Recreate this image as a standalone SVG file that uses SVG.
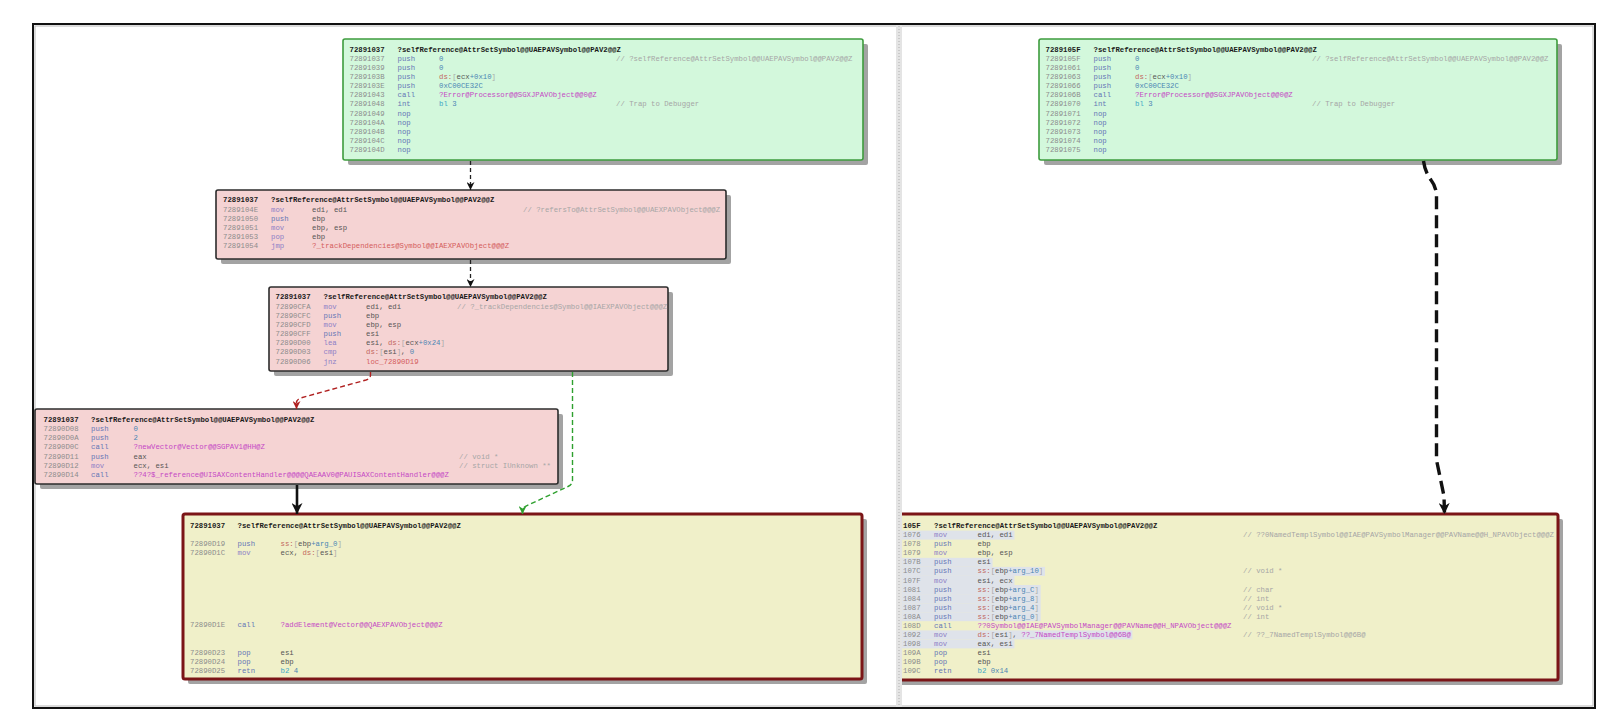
<svg xmlns="http://www.w3.org/2000/svg" width="1600" height="714" viewBox="0 0 1600 714">
<style>
.t{font-family:"Liberation Mono","DejaVu Sans Mono",monospace;font-size:7.3px}
.h{font-weight:bold;fill:#1a1a1a}
.a{fill:#8c8c8c}
.p{fill:#6476b6}
.q{fill:#8e80c6}
.r{fill:#555555}
.n{fill:#4c86b4}
.s{fill:#c2665c}
.b{fill:#a8a8a8}
.f{fill:#c548c5}
.j{fill:#d45c5c}
.c{fill:#a6a6a6}
.k{fill:#3fa6c6}
.shadow{fill:#a3a3a3}
.green{fill:#d3f8dc;stroke:#3e9c3e;stroke-width:1.6}
.pink{fill:#f5d3d3;stroke:#2c2c2c;stroke-width:1.6}
.yellow{fill:#f0f0c9;stroke:#7b1517;stroke-width:3}
.hl{fill:#dfe3ea}
.e{fill:none}
</style>
<defs>
<marker id="ak" viewBox="0 0 10 10" refX="10" refY="5" markerWidth="8" markerHeight="8" markerUnits="userSpaceOnUse" orient="auto"><path d="M0,0 L10,5 L0,10 L3,5 z" fill="#111"/></marker>
<marker id="akb" viewBox="0 0 10 10" refX="10" refY="5" markerWidth="11" markerHeight="11" markerUnits="userSpaceOnUse" orient="auto"><path d="M0,0 L10,5 L0,10 L3,5 z" fill="#111"/></marker>
<marker id="ar" viewBox="0 0 10 10" refX="10" refY="5" markerWidth="8" markerHeight="8" markerUnits="userSpaceOnUse" orient="auto"><path d="M0,0 L10,5 L0,10 L3,5 z" fill="#b02020"/></marker>
<marker id="ag" viewBox="0 0 10 10" refX="10" refY="5" markerWidth="8" markerHeight="8" markerUnits="userSpaceOnUse" orient="auto"><path d="M0,0 L10,5 L0,10 L3,5 z" fill="#2ea02e"/></marker>
<clipPath id="rp"><rect x="902" y="25" width="693" height="682"/></clipPath>
</defs>
<rect x="0" y="0" width="1600" height="714" fill="#ffffff"/>
<g id="frame">
<rect x="33" y="24" width="1562" height="684" fill="none" stroke="#111" stroke-width="2"/>
<rect x="35" y="26" width="1558" height="680" fill="none" stroke="#b8b8b8" stroke-width="1"/>
<rect x="896" y="25" width="6" height="682" fill="#e4e4e4"/>
<line x1="899" y1="26" x2="899" y2="706" stroke="#b0b0b0" stroke-width="1" stroke-dasharray="1 2"/>
</g>

<g id="n1">
<rect class="shadow" x="348" y="44" width="520" height="121" rx="2"/>
<rect class="green" x="343" y="39" width="520" height="121" rx="2"/>
<text class="t h" y="51.7"><tspan x="349.5">72891037</tspan><tspan x="397.5">?selfReference@AttrSetSymbol@@UAEPAVSymbol@@PAV2@@Z</tspan></text>
<text class="t" y="60.7"><tspan x="349.5" class="a">72891037</tspan><tspan x="397.5" class="p">push</tspan><tspan x="439" class="n">0</tspan><tspan x="616" class="c">// ?selfReference@AttrSetSymbol@@UAEPAVSymbol@@PAV2@@Z</tspan></text>
<text class="t" y="69.85"><tspan x="349.5" class="a">72891039</tspan><tspan x="397.5" class="p">push</tspan><tspan x="439" class="n">0</tspan></text>
<text class="t" y="79"><tspan x="349.5" class="a">7289103B</tspan><tspan x="397.5" class="p">push</tspan><tspan x="439" class="s">ds:</tspan><tspan class="b">[</tspan><tspan class="r">ecx</tspan><tspan class="n">+0x10</tspan><tspan class="b">]</tspan></text>
<text class="t" y="88.15"><tspan x="349.5" class="a">7289103E</tspan><tspan x="397.5" class="p">push</tspan><tspan x="439" class="n">0xC00CE32C</tspan></text>
<text class="t" y="97.3"><tspan x="349.5" class="a">72891043</tspan><tspan x="397.5" class="p">call</tspan><tspan x="439" class="f">?Error@Processor@@SGXJPAVObject@@0@Z</tspan></text>
<text class="t" y="106.45"><tspan x="349.5" class="a">72891048</tspan><tspan x="397.5" class="p">int</tspan><tspan x="439" class="k">bl</tspan><tspan class="n"> 3</tspan><tspan x="616" class="c">// Trap to Debugger</tspan></text>
<text class="t" y="115.6"><tspan x="349.5" class="a">72891049</tspan><tspan x="397.5" class="p">nop</tspan></text>
<text class="t" y="124.75"><tspan x="349.5" class="a">7289104A</tspan><tspan x="397.5" class="p">nop</tspan></text>
<text class="t" y="133.9"><tspan x="349.5" class="a">7289104B</tspan><tspan x="397.5" class="p">nop</tspan></text>
<text class="t" y="143.05"><tspan x="349.5" class="a">7289104C</tspan><tspan x="397.5" class="p">nop</tspan></text>
<text class="t" y="152.2"><tspan x="349.5" class="a">7289104D</tspan><tspan x="397.5" class="p">nop</tspan></text>
</g>

<g id="n2">
<rect class="shadow" x="221" y="195" width="510" height="69" rx="2"/>
<rect class="pink" x="216" y="190" width="510" height="69" rx="2"/>
<text class="t h" y="202.4"><tspan x="223">72891037</tspan><tspan x="271">?selfReference@AttrSetSymbol@@UAEPAVSymbol@@PAV2@@Z</tspan></text>
<text class="t" y="211.6"><tspan x="223" class="a">7289104E</tspan><tspan x="271" class="q">mov</tspan><tspan x="312" class="r">edi, edi</tspan><tspan x="523" class="c">// ?refersTo@AttrSetSymbol@@UAEXPAVObject@@@Z</tspan></text>
<text class="t" y="220.8"><tspan x="223" class="a">72891050</tspan><tspan x="271" class="p">push</tspan><tspan x="312" class="r">ebp</tspan></text>
<text class="t" y="230"><tspan x="223" class="a">72891051</tspan><tspan x="271" class="q">mov</tspan><tspan x="312" class="r">ebp, esp</tspan></text>
<text class="t" y="239.1"><tspan x="223" class="a">72891053</tspan><tspan x="271" class="q">pop</tspan><tspan x="312" class="r">ebp</tspan></text>
<text class="t" y="248.3"><tspan x="223" class="a">72891054</tspan><tspan x="271" class="q">jmp</tspan><tspan x="312" class="j">?_trackDependencies@Symbol@@IAEXPAVObject@@@Z</tspan></text>
</g>

<g id="n3">
<rect class="shadow" x="274" y="292" width="399" height="84" rx="2"/>
<rect class="pink" x="269" y="287" width="399" height="84" rx="2"/>
<text class="t h" y="299.4"><tspan x="275.5">72891037</tspan><tspan x="323.5">?selfReference@AttrSetSymbol@@UAEPAVSymbol@@PAV2@@Z</tspan></text>
<text class="t" y="308.5"><tspan x="275.5" class="a">72890CFA</tspan><tspan x="323.5" class="q">mov</tspan><tspan x="366" class="r">edi, edi</tspan><tspan x="457" class="c">// ?_trackDependencies@Symbol@@IAEXPAVObject@@@Z</tspan></text>
<text class="t" y="317.7"><tspan x="275.5" class="a">72890CFC</tspan><tspan x="323.5" class="p">push</tspan><tspan x="366" class="r">ebp</tspan></text>
<text class="t" y="326.9"><tspan x="275.5" class="a">72890CFD</tspan><tspan x="323.5" class="q">mov</tspan><tspan x="366" class="r">ebp, esp</tspan></text>
<text class="t" y="336"><tspan x="275.5" class="a">72890CFF</tspan><tspan x="323.5" class="p">push</tspan><tspan x="366" class="r">esi</tspan></text>
<text class="t" y="345.2"><tspan x="275.5" class="a">72890D00</tspan><tspan x="323.5" class="q">lea</tspan><tspan x="366" class="r">esi, </tspan><tspan class="s">ds:</tspan><tspan class="b">[</tspan><tspan class="r">ecx</tspan><tspan class="n">+0x24</tspan><tspan class="b">]</tspan></text>
<text class="t" y="354.4"><tspan x="275.5" class="a">72890D03</tspan><tspan x="323.5" class="q">cmp</tspan><tspan x="366" class="s">ds:</tspan><tspan class="b">[</tspan><tspan class="r">esi</tspan><tspan class="b">]</tspan><tspan class="r">, </tspan><tspan class="n">0</tspan></text>
<text class="t" y="363.6"><tspan x="275.5" class="a">72890D06</tspan><tspan x="323.5" class="q">jnz</tspan><tspan x="366" class="j">loc_72890D19</tspan></text>
</g>

<g id="n4">
<rect class="shadow" x="40" y="414" width="523" height="75" rx="2"/>
<rect class="pink" x="35" y="409" width="523" height="75" rx="2"/>
<text class="t h" y="421.8"><tspan x="43.5">72891037</tspan><tspan x="91">?selfReference@AttrSetSymbol@@UAEPAVSymbol@@PAV2@@Z</tspan></text>
<text class="t" y="431"><tspan x="43.5" class="a">72890D08</tspan><tspan x="91" class="p">push</tspan><tspan x="133.5" class="n">0</tspan></text>
<text class="t" y="440.2"><tspan x="43.5" class="a">72890D0A</tspan><tspan x="91" class="p">push</tspan><tspan x="133.5" class="n">2</tspan></text>
<text class="t" y="449.4"><tspan x="43.5" class="a">72890D0C</tspan><tspan x="91" class="p">call</tspan><tspan x="133.5" class="f">?newVector@Vector@@SGPAV1@HH@Z</tspan></text>
<text class="t" y="458.5"><tspan x="43.5" class="a">72890D11</tspan><tspan x="91" class="p">push</tspan><tspan x="133.5" class="r">eax</tspan><tspan x="459" class="c">// void *</tspan></text>
<text class="t" y="467.7"><tspan x="43.5" class="a">72890D12</tspan><tspan x="91" class="q">mov</tspan><tspan x="133.5" class="r">ecx, esi</tspan><tspan x="459" class="c">// struct IUnknown **</tspan></text>
<text class="t" y="476.9"><tspan x="43.5" class="a">72890D14</tspan><tspan x="91" class="p">call</tspan><tspan x="133.5" class="f">??4?$_reference@UISAXContentHandler@@@@QAEAAV0@PAUISAXContentHandler@@@Z</tspan></text>
</g>

<g id="n5">
<rect class="shadow" x="188" y="519" width="679" height="165" rx="2"/>
<rect class="yellow" x="183" y="514" width="679" height="165" rx="2"/>
<text class="t h" y="528"><tspan x="190">72891037</tspan><tspan x="237.5">?selfReference@AttrSetSymbol@@UAEPAVSymbol@@PAV2@@Z</tspan></text>
<text class="t" y="545.9"><tspan x="190" class="a">72890D19</tspan><tspan x="237.5" class="p">push</tspan><tspan x="280.5" class="s">ss:</tspan><tspan class="b">[</tspan><tspan class="r">ebp</tspan><tspan class="n">+arg_0</tspan><tspan class="b">]</tspan></text>
<text class="t" y="555.1"><tspan x="190" class="a">72890D1C</tspan><tspan x="237.5" class="q">mov</tspan><tspan x="280.5" class="r">ecx, </tspan><tspan class="s">ds:</tspan><tspan class="b">[</tspan><tspan class="r">esi</tspan><tspan class="b">]</tspan></text>
<text class="t" y="627.2"><tspan x="190" class="a">72890D1E</tspan><tspan x="237.5" class="p">call</tspan><tspan x="280.5" class="f">?addElement@Vector@@QAEXPAVObject@@@Z</tspan></text>
<text class="t" y="654.7"><tspan x="190" class="a">72890D23</tspan><tspan x="237.5" class="p">pop</tspan><tspan x="280.5" class="r">esi</tspan></text>
<text class="t" y="663.9"><tspan x="190" class="a">72890D24</tspan><tspan x="237.5" class="p">pop</tspan><tspan x="280.5" class="r">ebp</tspan></text>
<text class="t" y="673.1"><tspan x="190" class="a">72890D25</tspan><tspan x="237.5" class="p">retn</tspan><tspan x="280.5" class="k">b2</tspan><tspan class="n"> 4</tspan></text>
</g>

<g id="n6">
<rect class="shadow" x="1044" y="44" width="518" height="121" rx="2"/>
<rect class="green" x="1039" y="39" width="518" height="121" rx="2"/>
<text class="t h" y="51.7"><tspan x="1045.5">7289105F</tspan><tspan x="1093.5">?selfReference@AttrSetSymbol@@UAEPAVSymbol@@PAV2@@Z</tspan></text>
<text class="t" y="60.7"><tspan x="1045.5" class="a">7289105F</tspan><tspan x="1093.5" class="p">push</tspan><tspan x="1135" class="n">0</tspan><tspan x="1312" class="c">// ?selfReference@AttrSetSymbol@@UAEPAVSymbol@@PAV2@@Z</tspan></text>
<text class="t" y="69.85"><tspan x="1045.5" class="a">72891061</tspan><tspan x="1093.5" class="p">push</tspan><tspan x="1135" class="n">0</tspan></text>
<text class="t" y="79"><tspan x="1045.5" class="a">72891063</tspan><tspan x="1093.5" class="p">push</tspan><tspan x="1135" class="s">ds:</tspan><tspan class="b">[</tspan><tspan class="r">ecx</tspan><tspan class="n">+0x10</tspan><tspan class="b">]</tspan></text>
<text class="t" y="88.15"><tspan x="1045.5" class="a">72891066</tspan><tspan x="1093.5" class="p">push</tspan><tspan x="1135" class="n">0xC00CE32C</tspan></text>
<text class="t" y="97.3"><tspan x="1045.5" class="a">7289106B</tspan><tspan x="1093.5" class="p">call</tspan><tspan x="1135" class="f">?Error@Processor@@SGXJPAVObject@@0@Z</tspan></text>
<text class="t" y="106.45"><tspan x="1045.5" class="a">72891070</tspan><tspan x="1093.5" class="p">int</tspan><tspan x="1135" class="k">bl</tspan><tspan class="n"> 3</tspan><tspan x="1312" class="c">// Trap to Debugger</tspan></text>
<text class="t" y="115.6"><tspan x="1045.5" class="a">72891071</tspan><tspan x="1093.5" class="p">nop</tspan></text>
<text class="t" y="124.75"><tspan x="1045.5" class="a">72891072</tspan><tspan x="1093.5" class="p">nop</tspan></text>
<text class="t" y="133.9"><tspan x="1045.5" class="a">72891073</tspan><tspan x="1093.5" class="p">nop</tspan></text>
<text class="t" y="143.05"><tspan x="1045.5" class="a">72891074</tspan><tspan x="1093.5" class="p">nop</tspan></text>
<text class="t" y="152.2"><tspan x="1045.5" class="a">72891075</tspan><tspan x="1093.5" class="p">nop</tspan></text>
</g>

<g id="n7" clip-path="url(#rp)">
<rect class="shadow" x="875" y="519" width="688" height="166" rx="2"/>
<rect class="yellow" x="870" y="514" width="688" height="166" rx="2"/>
<rect class="hl" x="902" y="530.6" width="112.5" height="9"/>
<rect class="hl" x="902" y="557.8" width="90.6" height="9"/>
<rect class="hl" x="902" y="566.9" width="143" height="9"/>
<rect class="hl" x="902" y="576" width="112.5" height="9"/>
<rect class="hl" x="902" y="585" width="138.7" height="9"/>
<rect class="hl" x="902" y="594.1" width="138.7" height="9"/>
<rect class="hl" x="902" y="603.2" width="138.7" height="9"/>
<rect class="hl" x="902" y="612.2" width="138.7" height="9"/>
<rect class="hl" x="902" y="630.4" width="230.4" height="9"/>
<rect class="hl" x="902" y="639.4" width="112.5" height="9"/>
<text class="t h" y="528.1"><tspan x="903">105F</tspan><tspan x="934">?selfReference@AttrSetSymbol@@UAEPAVSymbol@@PAV2@@Z</tspan></text>
<text class="t" y="537.1"><tspan x="903" class="a">1076</tspan><tspan x="934" class="q">mov</tspan><tspan x="977.5" class="r">edi, edi</tspan><tspan x="1243" class="c">// ??0NamedTemplSymbol@@IAE@PAVSymbolManager@@PAVName@@H_NPAVObject@@@Z</tspan></text>
<text class="t" y="546.2"><tspan x="903" class="a">1078</tspan><tspan x="934" class="p">push</tspan><tspan x="977.5" class="r">ebp</tspan></text>
<text class="t" y="555.2"><tspan x="903" class="a">1079</tspan><tspan x="934" class="q">mov</tspan><tspan x="977.5" class="r">ebp, esp</tspan></text>
<text class="t" y="564.3"><tspan x="903" class="a">107B</tspan><tspan x="934" class="p">push</tspan><tspan x="977.5" class="r">esi</tspan></text>
<text class="t" y="573.4"><tspan x="903" class="a">107C</tspan><tspan x="934" class="p">push</tspan><tspan x="977.5" class="s">ss:</tspan><tspan class="b">[</tspan><tspan class="r">ebp</tspan><tspan class="n">+arg_10</tspan><tspan class="b">]</tspan><tspan x="1243" class="c">// void *</tspan></text>
<text class="t" y="582.5"><tspan x="903" class="a">107F</tspan><tspan x="934" class="q">mov</tspan><tspan x="977.5" class="r">esi, ecx</tspan></text>
<text class="t" y="591.5"><tspan x="903" class="a">1081</tspan><tspan x="934" class="p">push</tspan><tspan x="977.5" class="s">ss:</tspan><tspan class="b">[</tspan><tspan class="r">ebp</tspan><tspan class="n">+arg_C</tspan><tspan class="b">]</tspan><tspan x="1243" class="c">// char</tspan></text>
<text class="t" y="600.6"><tspan x="903" class="a">1084</tspan><tspan x="934" class="p">push</tspan><tspan x="977.5" class="s">ss:</tspan><tspan class="b">[</tspan><tspan class="r">ebp</tspan><tspan class="n">+arg_8</tspan><tspan class="b">]</tspan><tspan x="1243" class="c">// int</tspan></text>
<text class="t" y="609.7"><tspan x="903" class="a">1087</tspan><tspan x="934" class="p">push</tspan><tspan x="977.5" class="s">ss:</tspan><tspan class="b">[</tspan><tspan class="r">ebp</tspan><tspan class="n">+arg_4</tspan><tspan class="b">]</tspan><tspan x="1243" class="c">// void *</tspan></text>
<text class="t" y="618.7"><tspan x="903" class="a">108A</tspan><tspan x="934" class="p">push</tspan><tspan x="977.5" class="s">ss:</tspan><tspan class="b">[</tspan><tspan class="r">ebp</tspan><tspan class="n">+arg_0</tspan><tspan class="b">]</tspan><tspan x="1243" class="c">// int</tspan></text>
<text class="t" y="627.8"><tspan x="903" class="a">108D</tspan><tspan x="934" class="p">call</tspan><tspan x="977.5" class="f">??0Symbol@@IAE@PAVSymbolManager@@PAVName@@H_NPAVObject@@@Z</tspan></text>
<text class="t" y="636.9"><tspan x="903" class="a">1092</tspan><tspan x="934" class="q">mov</tspan><tspan x="977.5" class="s">ds:</tspan><tspan class="b">[</tspan><tspan class="r">esi</tspan><tspan class="b">]</tspan><tspan class="r">, </tspan><tspan class="f">??_7NamedTemplSymbol@@6B@</tspan><tspan x="1243" class="c">// ??_7NamedTemplSymbol@@6B@</tspan></text>
<text class="t" y="645.9"><tspan x="903" class="a">1098</tspan><tspan x="934" class="q">mov</tspan><tspan x="977.5" class="r">eax, esi</tspan></text>
<text class="t" y="655"><tspan x="903" class="a">109A</tspan><tspan x="934" class="p">pop</tspan><tspan x="977.5" class="r">esi</tspan></text>
<text class="t" y="664.1"><tspan x="903" class="a">109B</tspan><tspan x="934" class="p">pop</tspan><tspan x="977.5" class="r">ebp</tspan></text>
<text class="t" y="673.2"><tspan x="903" class="a">109C</tspan><tspan x="934" class="p">retn</tspan><tspan x="977.5" class="k">b2</tspan><tspan class="n"> 0x14</tspan></text>
</g>

<g id="connectors" fill="none">
<path d="M470.5,161 L470.5,190" stroke="#222" stroke-width="1.3" stroke-dasharray="4 3" marker-end="url(#ak)"/>
<path d="M470.5,260 L470.5,287" stroke="#222" stroke-width="1.3" stroke-dasharray="4 3" marker-end="url(#ak)"/>
<path d="M370.5,372 L370.5,375 Q370.5,378.5 366,380 L300.5,398 Q296.5,399.5 296.5,403 L296.5,409" stroke="#b02020" stroke-width="1.4" stroke-dasharray="5 3" marker-end="url(#ar)"/>
<path d="M572.5,372 L572.5,480 Q572.5,484.5 568,486.5 L526,506 Q522.5,508 522.5,510 L522.5,514" stroke="#2ea02e" stroke-width="1.4" stroke-dasharray="5 3" marker-end="url(#ag)"/>
<path d="M297,485 L297,514" stroke="#111" stroke-width="2.6" marker-end="url(#akb)"/>
<path d="M1423.5,161 Q1425,172 1431,180 Q1436.5,187 1436.5,197 L1436.5,460 L1444,496 L1444.5,514" stroke="#111" stroke-width="3.4" stroke-dasharray="13 6" marker-end="url(#akb)"/>
</g>
</svg>
